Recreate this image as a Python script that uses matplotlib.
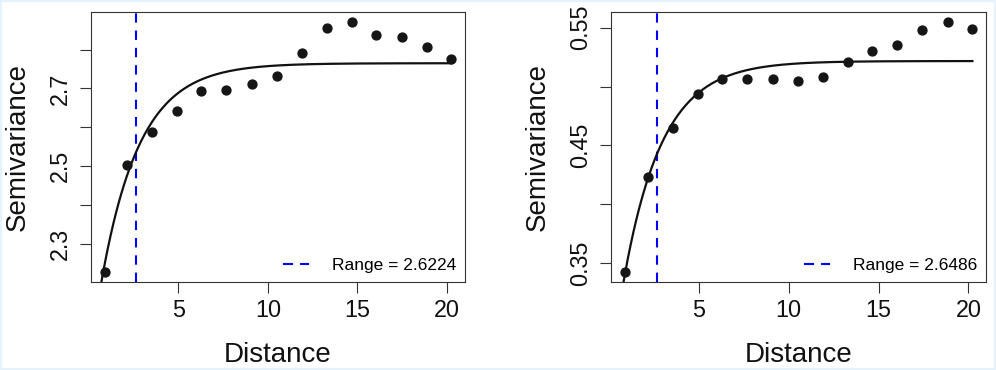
import numpy as np
import matplotlib
matplotlib.use("Agg")
import matplotlib.pyplot as plt
from matplotlib.lines import Line2D
from matplotlib.patches import Rectangle

plt.rcParams['font.family'] = ['Liberation Sans', 'DejaVu Sans']

# ---- data: left panel ----
dist_left = [0.87, 2.10, 3.53, 4.91, 6.27, 7.68, 9.10, 10.48, 11.89, 13.31, 14.67, 16.06, 17.48, 18.88, 20.25]
semi_left = [2.227, 2.503, 2.587, 2.643, 2.694, 2.696, 2.711, 2.732, 2.792, 2.857, 2.872, 2.838, 2.832, 2.806, 2.775]
range_left = 2.6224
sill_left, psill_left, scale_left = 2.765, 0.778, 2.15
yticks_left = [2.3, 2.4, 2.5, 2.6, 2.7, 2.8]
ylabels_left = ["2.3", "", "2.5", "", "2.7", ""]

# ---- data: right panel ----
dist_right = [0.90, 2.17, 3.54, 4.93, 6.30, 7.69, 9.10, 10.49, 11.88, 13.27, 14.66, 16.05, 17.44, 18.85, 20.22]
semi_right = [0.3426, 0.4234, 0.4649, 0.4937, 0.5064, 0.5064, 0.5062, 0.5045, 0.5081, 0.5212, 0.5305, 0.5356, 0.5483, 0.5551, 0.5492]
range_right = 2.6486
sill_right, psill_right, scale_right = 0.5217, 0.273, 2.15
yticks_right = [0.35, 0.40, 0.45, 0.50, 0.55]
ylabels_right = ["0.35", "", "0.45", "", "0.55"]

xticks = [5, 10, 15, 20]

W, H = 996, 370
fig = plt.figure(figsize=(W / 100, H / 100), dpi=100)
fig.patch.set_facecolor('white')
fig.patches.append(Rectangle((0, 0), 1, 1, transform=fig.transFigure,
                             facecolor='none', edgecolor='#e6f2fb', linewidth=3.0, zorder=-1))

def px_ax(l, r, t, b):
    return [l / W, 1 - b / H, (r - l) / W, (b - t) / H]

rect_px_bottom = 282.0

def panel(rect, xs, ys, rng, sill, psill, scale, yt, yl):
    ax = fig.add_axes(rect)
    xs = np.asarray(xs); ys = np.asarray(ys)
    rx = xs.max() - xs.min(); ry = ys.max() - ys.min()
    ax.set_xlim(xs.min() - 0.04 * rx, xs.max() + 0.04 * rx)
    ax.set_ylim(ys.min() - 0.04 * ry, ys.max() + 0.04 * ry)
    h = np.linspace(0.3, xs.max(), 400)
    ax.plot(h, sill - psill * np.exp(-h / scale), color='#111111', lw=1.6, zorder=3)
    ax.plot(xs, ys, 'o', color='#151515', markersize=6.4, zorder=4)
    ax.axvline(rng, color='blue', lw=1.5, linestyle=(0, (4.5, 3.8)), zorder=2)
    ax.set_xticks(xticks)
    ax.set_xticklabels([str(t) for t in xticks])
    ax.set_yticks(yt)
    ax.set_yticklabels(yl, rotation=90, va='center')
    ax.tick_params(axis='both', length=7.7, width=0.8, color='#333333',
                   labelsize=16.8, labelcolor='#111111')
    ax.tick_params(axis='x', pad=4.5)
    ax.tick_params(axis='y', pad=6)
    for s in ax.spines.values():
        s.set_color('#333333'); s.set_linewidth(0.8)
    ax.set_xlabel('Distance', fontsize=20, color='#111111')
    ax.xaxis.label.set_va('baseline')
    ax.xaxis.set_label_coords(0.5, -(361.7 - rect_px_bottom) / 270.3)
    ax.set_ylabel('Semivariance', fontsize=20, color='#111111')
    ax.yaxis.label.set_va('baseline')
    ax.yaxis.label.set_rotation_mode('anchor')
    h_leg = Line2D([], [], color='blue', lw=1.5, linestyle=(0, (4.8, 3.4)))
    ax.legend([h_leg], [f'Range = {rng}'], loc='lower right', frameon=False,
              fontsize=12.5, handlelength=1.5, handletextpad=1.32,
              borderaxespad=0.0, borderpad=0.5)
    return ax

axL = panel(px_ax(90.7, 465.3, 11.7, 282.0), dist_left, semi_left, range_left,
            sill_left, psill_left, scale_left, yticks_left, ylabels_left)
axL.yaxis.set_label_coords(-(90.7 - 25.0) / 374.6, 0.5)
axR = panel(px_ax(611.3, 986.3, 11.7, 282.0), dist_right, semi_right, range_right,
            sill_right, psill_right, scale_right, yticks_right, ylabels_right)
axR.yaxis.set_label_coords(-(611.3 - 544.7) / 375.0, 0.5)

fig.savefig('out.png', dpi=100, facecolor='white')
